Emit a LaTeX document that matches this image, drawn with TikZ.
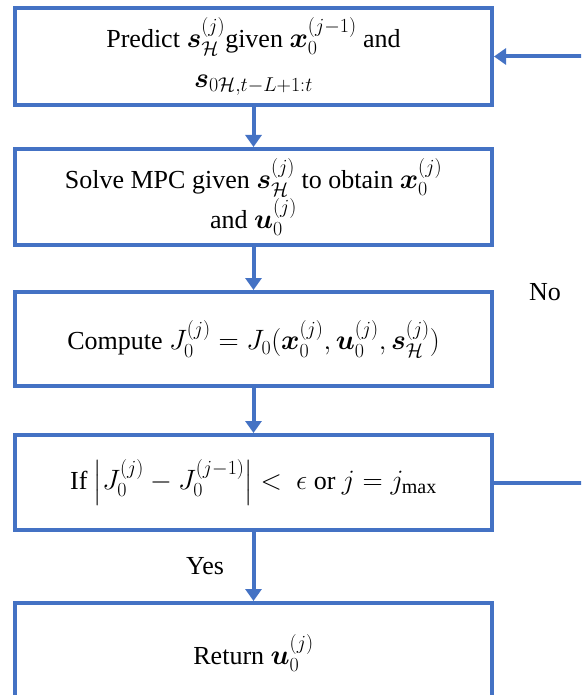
\RequirePackage{fix-cm}
\documentclass[tikz,border=0pt]{standalone}
\usepackage{fontspec}
\setmainfont{Liberation Serif}
\usepackage{amsmath,bm}
\usetikzlibrary{arrows.meta}
\definecolor{flowblue}{HTML}{4472C4}
% larger math so that formulas sit well next to the serif text
\DeclareMathSizes{26}{28}{20}{16}
\begin{document}
\begin{tikzpicture}[x=1pt,y=-1pt,
  stagebox/.style={draw=flowblue, line width=4pt, fill=white, minimum width=477pt,
    align=center, inner sep=0pt, font=\fontsize{26}{40}\selectfont},
  flowarrow/.style={draw=flowblue, line width=4pt,
    -{Triangle[length=12pt,width=16pt]}},
  note/.style={font=\fontsize{26}{30}\selectfont}]
  \useasboundingbox (0,0) rectangle (581,695);
  \clip (0,0) rectangle (581,695);

  \node[stagebox, minimum height=97pt] (predict) at (253.5,56.5)
    {Predict $\bm{s}_{\mathcal{H}}^{(j)}$given $\bm{x}_0^{(j-1)}$ and\\
     $\bm{s}_{0\mathcal{H},t-L+1:t}$};
  \node[stagebox, minimum height=96pt] (solve) at (253.5,197)
    {Solve MPC given $\bm{s}_{\mathcal{H}}^{(j)}$ to obtain $\bm{x}_0^{(j)}$\\
     and $\bm{u}_0^{(j)}$};
  \node[stagebox, minimum height=94pt] (cost) at (253.5,339)
    {Compute $J_0^{(j)} = J_0(\bm{x}_0^{(j)}, \bm{u}_0^{(j)}, \bm{s}_{\mathcal{H}}^{(j)})$};
  \node[stagebox, minimum height=95pt] (check) at (253.5,482.5)
    {If $\left|J_0^{(j)} - J_0^{(j-1)}\right| <\ \epsilon$ or $j = j_{\max}$};
  \node[stagebox, minimum height=100pt] (ret) at (253.5,653)
    {Return $\bm{u}_0^{(j)}$};

  \draw[flowarrow] (predict) -- (solve);
  \draw[flowarrow] (solve) -- (cost);
  \draw[flowarrow] (cost) -- (check);
  \draw[flowarrow] (check) -- (ret);

  % loop back when the stopping test fails
  \coordinate (loopturn) at (600,0);
  \draw[flowarrow] (check.east) -- (check.east -| loopturn)
    -- (predict.east -| loopturn) -- (predict.east);

  \node[note] (no) at (545,292) {No};
  \node[note] (yes) at (205,566) {Yes};
\end{tikzpicture}
\end{document}
